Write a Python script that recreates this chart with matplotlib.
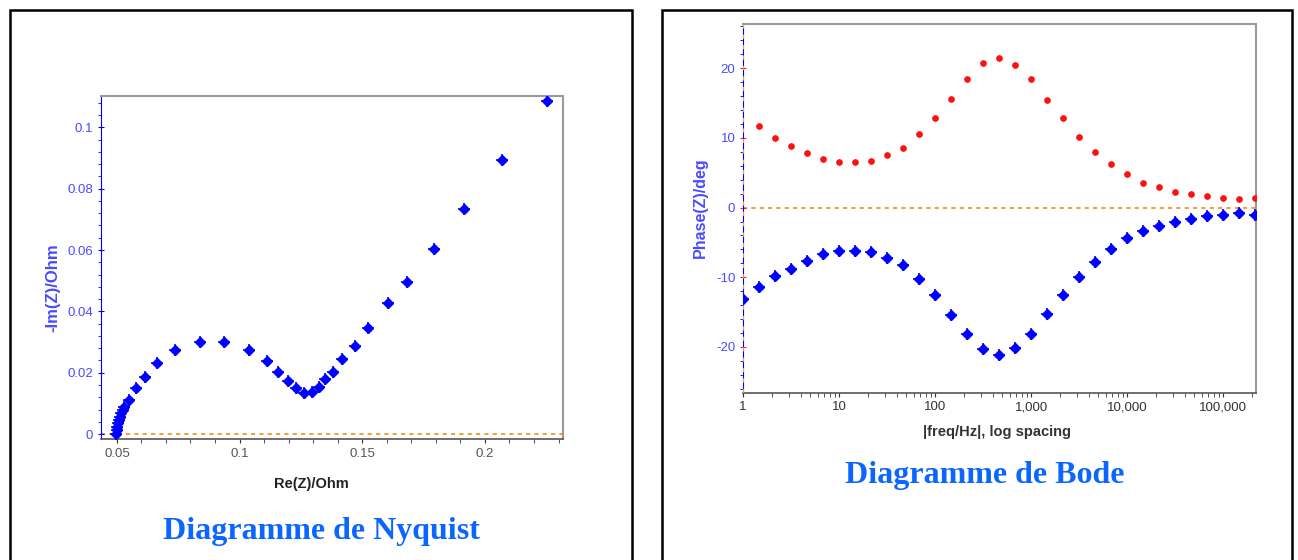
import numpy as np
import matplotlib
matplotlib.use("Agg")
import matplotlib.pyplot as plt
from matplotlib.patches import Rectangle
from matplotlib.ticker import MultipleLocator, FixedLocator, FuncFormatter, LogLocator, NullFormatter

plt.rcParams["axes.unicode_minus"] = False

# Nyquist data (Re(Z), -Im(Z)) in Ohm
re_z = [0.0496, 0.0499, 0.0501, 0.0504, 0.0508, 0.0512, 0.0516, 0.0523, 0.0530, 0.0550,
        0.0577, 0.0614, 0.0662, 0.0736, 0.0838, 0.0936, 0.1038, 0.1110, 0.1158, 0.1198,
        0.1230, 0.1264, 0.1297, 0.1323, 0.1348, 0.1382, 0.1418, 0.1470, 0.1524, 0.1606,
        0.1683, 0.1793, 0.1916, 0.2071, 0.2254]
im_z = [0.0000, 0.0012, 0.0024, 0.0035, 0.0046, 0.0057, 0.0068, 0.0078, 0.0087, 0.0111,
        0.0149, 0.0187, 0.0233, 0.0274, 0.0299, 0.0299, 0.0274, 0.0239, 0.0203, 0.0174,
        0.0149, 0.0133, 0.0137, 0.0154, 0.0179, 0.0203, 0.0244, 0.0288, 0.0345, 0.0427,
        0.0497, 0.0603, 0.0734, 0.0892, 0.1085]

# Bode data: frequencies, 6 points per decade
freq = [1.0, 1.468, 2.154, 3.162, 4.642, 6.813, 10.0, 14.68, 21.54, 31.62, 46.42,
        68.13, 100.0, 146.8, 215.4, 316.2, 464.2, 681.3, 1000.0, 1468.0, 2154.0,
        3162.0, 4642.0, 6813.0, 10000.0, 14680.0, 21540.0, 31620.0, 46420.0,
        68130.0, 100000.0, 146800.0, 215400.0]
phase_neg = [-13.1, -11.4, -9.8, -8.8, -7.6, -6.7, -6.2, -6.2, -6.4, -7.2, -8.3,
             -10.2, -12.5, -15.4, -18.2, -20.3, -21.1, -20.1, -18.1, -15.2, -12.5,
             -9.9, -7.8, -6.0, -4.4, -3.4, -2.6, -2.0, -1.6, -1.25, -1.0, -0.8, -1.0]
freq_pos = freq[1:]
phase_pos = [11.7, 10.0, 8.9, 7.8, 7.0, 6.5, 6.5, 6.7, 7.5, 8.6, 10.5, 12.8, 15.6,
             18.5, 20.7, 21.5, 20.4, 18.4, 15.5, 12.9, 10.1, 8.0, 6.3, 4.8, 3.6,
             3.0, 2.3, 1.9, 1.6, 1.4, 1.2, 1.4]

W, H = 1298, 560
BLUE = "#0000ff"
LBLUE = "#4a4aff"
ORANGE = "#f5a040"
TITLE_BLUE = "#0a66ff"

fig = plt.figure(figsize=(W / 100, H / 100), dpi=100)

# outer frames
for x0, x1 in [(10, 632), (662, 1292)]:
    fig.add_artist(Rectangle((x0 / W, -0.1), (x1 - x0) / W, 1.1 - 10 / H,
                             transform=fig.transFigure, fill=False,
                             edgecolor="black", linewidth=1.8, clip_on=False))

tick_font = ["Liberation Sans", "DejaVu Sans"]


def style_axes(ax):
    for s in ["top", "right"]:
        ax.spines[s].set_color("#999999")
        ax.spines[s].set_linewidth(1.5)
    ax.spines["left"].set_color(BLUE)
    ax.spines["bottom"].set_color("#555555")
    ax.spines["bottom"].set_linewidth(1.2)
    for lab in ax.get_xticklabels() + ax.get_yticklabels():
        lab.set_family(tick_font)
        lab.set_fontsize(9.5)


# ---------------- Nyquist ----------------
ax1 = fig.add_axes([100.7 / W, 1 - 439.3 / H, 462 / W, 343.6 / H])
ax1.set_xlim(0.0434, 0.2317)
ax1.set_ylim(-0.0017, 0.1103)
ax1.axhline(0, color=ORANGE, linestyle=(0, (2, 2)), linewidth=1.5, zorder=1)
ax1.plot(re_z, im_z, linestyle="none", marker="D", ms=5.5, color=BLUE, zorder=3)
ax1.plot(re_z, im_z, linestyle="none", marker="+", ms=9, mew=1.2, color=BLUE, zorder=3)
ax1.xaxis.set_major_locator(FixedLocator([0.05, 0.1, 0.15, 0.2]))
ax1.xaxis.set_minor_locator(MultipleLocator(0.01))
ax1.set_xticklabels(["0.05", "0.1", "0.15", "0.2"])
ax1.yaxis.set_major_locator(FixedLocator([0, 0.02, 0.04, 0.06, 0.08, 0.1]))
ax1.yaxis.set_minor_locator(MultipleLocator(0.004))
ax1.set_yticklabels(["0", "0.02", "0.04", "0.06", "0.08", "0.1"])
ax1.tick_params(axis="x", which="both", colors="#333333", labelcolor="#555555",
                direction="out", length=3, pad=3)
ax1.tick_params(axis="y", which="major", colors=BLUE, labelcolor=LBLUE,
                direction="inout", length=5, pad=3)
ax1.tick_params(axis="y", which="minor", colors=BLUE, direction="out", length=2)
style_axes(ax1)
ax1.set_xlabel("Re(Z)/Ohm", fontsize=10.5, fontweight="bold", color="#222222",
               family=tick_font)
ax1.set_ylabel("-Im(Z)/Ohm", fontsize=12, fontweight="bold", color=LBLUE,
               family=tick_font)
ax1.xaxis.set_label_coords(0.457, -0.11)
ax1.yaxis.set_label_coords(-0.088, 0.44)

# ---------------- Bode ----------------
ax2 = fig.add_axes([743 / W, 1 - 393 / H, 513 / W, 369.4 / H])
ax2.set_xscale("log")
ax2.set_xlim(1, 10 ** 5.34)
ax2.set_ylim(-26.6, 26.4)
ax2.axhline(0, color=ORANGE, linestyle=(0, (2, 2)), linewidth=1.5, zorder=1)
ax2.axvline(1, color=ORANGE, linestyle=(0, (2, 3)), linewidth=1.5, zorder=2.6)
ax2.plot(freq_pos, phase_pos, linestyle="none", marker="o", ms=3.8, color="#ff1010", zorder=3)
ax2.plot(freq, phase_neg, linestyle="none", marker="D", ms=5.5, color=BLUE, zorder=3)
ax2.plot(freq, phase_neg, linestyle="none", marker="+", ms=9, mew=1.2, color=BLUE, zorder=3)
ax2.xaxis.set_major_locator(LogLocator(base=10, numticks=10))
ax2.xaxis.set_minor_locator(LogLocator(base=10, subs=np.arange(2, 10), numticks=20))
ax2.xaxis.set_major_formatter(FuncFormatter(lambda v, p: f"{v:,.0f}"))
ax2.xaxis.set_minor_formatter(NullFormatter())
ax2.yaxis.set_major_locator(FixedLocator([-20, -10, 0, 10, 20]))
ax2.yaxis.set_minor_locator(MultipleLocator(2))
ax2.tick_params(axis="x", which="both", colors="#333333", labelcolor="#333333",
                direction="out", length=3, pad=3)
ax2.tick_params(axis="y", which="major", colors="#ff2020", labelcolor=LBLUE,
                direction="inout", length=5, pad=3)
ax2.tick_params(axis="y", which="minor", colors=BLUE, direction="out", length=2)
style_axes(ax2)
ax2.set_xlabel("|freq/Hz|, log spacing", fontsize=10.5, fontweight="bold", color="#333333",
               family=tick_font)
ax2.set_ylabel("Phase(Z)/deg", fontsize=11.5, fontweight="bold", color=LBLUE,
               family=tick_font)
ax2.xaxis.set_label_coords(0.495, -0.087)
ax2.yaxis.set_label_coords(-0.068, 0.503)

# titles
fig.text(321 / W, 1 - 532 / H, "Diagramme de Nyquist", ha="center", va="center",
         family="Liberation Serif", fontweight="bold", fontsize=23, color=TITLE_BLUE)
fig.text(985 / W, 1 - 476 / H, "Diagramme de Bode", ha="center", va="center",
         family="Liberation Serif", fontweight="bold", fontsize=23, color=TITLE_BLUE)

fig.savefig("out.png", dpi=100)
